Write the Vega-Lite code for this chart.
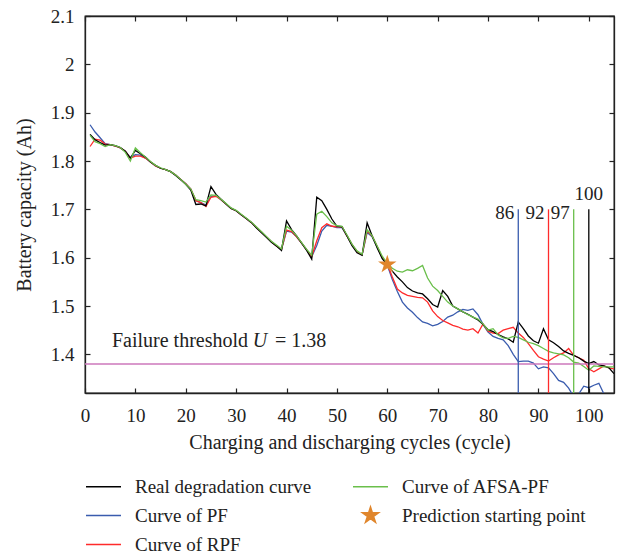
{
  "$schema": "https://vega.github.io/schema/vega-lite/v6.json",
  "width": 529,
  "height": 377,
  "autosize": {"type": "none"},
  "padding": {"left": 85, "top": 16, "right": 8, "bottom": 159},
  "config": {
    "view": {"stroke": "#222222", "strokeWidth": 1.3},
    "font": "Liberation Serif",
    "axis": {
      "grid": false,
      "domainColor": "#222222",
      "domainWidth": 1.3,
      "tickColor": "#222222",
      "tickWidth": 1.2,
      "tickSize": -5,
      "labelFont": "Liberation Serif",
      "labelFontSize": 19,
      "labelColor": "#222222",
      "titleFont": "Liberation Serif",
      "titleFontSize": 20,
      "titleFontWeight": "normal",
      "titleColor": "#222222"
    },
    "legend": {
      "labelFont": "Liberation Serif",
      "labelFontSize": 19,
      "labelColor": "#222222",
      "labelLimit": 400,
      "symbolType": "stroke",
      "symbolSize": 1225,
      "symbolStrokeWidth": 1.5,
      "labelOffset": 13,
      "rowPadding": -1,
      "columnPadding": 38
    }
  },
  "layer": [
    {
      "data": {"values": [
        {"cyc": 1, "real": 1.855, "pf": 1.875, "rpf": 1.830, "afsa": 1.853},
        {"cyc": 2, "real": 1.844, "pf": 1.860, "rpf": 1.845, "afsa": 1.840},
        {"cyc": 3, "real": 1.838, "pf": 1.848, "rpf": 1.843, "afsa": 1.836},
        {"cyc": 4, "real": 1.833, "pf": 1.836, "rpf": 1.835, "afsa": 1.830},
        {"cyc": 5, "real": 1.834, "pf": 1.834, "rpf": 1.834, "afsa": 1.834},
        {"cyc": 6, "real": 1.832, "pf": 1.831, "rpf": 1.831, "afsa": 1.832},
        {"cyc": 7, "real": 1.828, "pf": 1.827, "rpf": 1.827, "afsa": 1.828},
        {"cyc": 8, "real": 1.820, "pf": 1.820, "rpf": 1.820, "afsa": 1.818},
        {"cyc": 9, "real": 1.806, "pf": 1.807, "rpf": 1.806, "afsa": 1.800},
        {"cyc": 10, "real": 1.822, "pf": 1.813, "rpf": 1.810, "afsa": 1.827},
        {"cyc": 11, "real": 1.815, "pf": 1.812, "rpf": 1.810, "afsa": 1.817},
        {"cyc": 12, "real": 1.808, "pf": 1.806, "rpf": 1.806, "afsa": 1.808},
        {"cyc": 13, "real": 1.798, "pf": 1.798, "rpf": 1.798, "afsa": 1.799},
        {"cyc": 14, "real": 1.791, "pf": 1.790, "rpf": 1.790, "afsa": 1.791},
        {"cyc": 15, "real": 1.785, "pf": 1.785, "rpf": 1.785, "afsa": 1.786},
        {"cyc": 16, "real": 1.782, "pf": 1.782, "rpf": 1.782, "afsa": 1.782},
        {"cyc": 17, "real": 1.778, "pf": 1.778, "rpf": 1.778, "afsa": 1.778},
        {"cyc": 18, "real": 1.770, "pf": 1.771, "rpf": 1.771, "afsa": 1.771},
        {"cyc": 19, "real": 1.761, "pf": 1.762, "rpf": 1.762, "afsa": 1.762},
        {"cyc": 20, "real": 1.752, "pf": 1.753, "rpf": 1.753, "afsa": 1.752},
        {"cyc": 21, "real": 1.740, "pf": 1.742, "rpf": 1.742, "afsa": 1.742},
        {"cyc": 22, "real": 1.710, "pf": 1.718, "rpf": 1.718, "afsa": 1.720},
        {"cyc": 23, "real": 1.711, "pf": 1.714, "rpf": 1.714, "afsa": 1.718},
        {"cyc": 24, "real": 1.707, "pf": 1.709, "rpf": 1.706, "afsa": 1.715},
        {"cyc": 25, "real": 1.747, "pf": 1.727, "rpf": 1.725, "afsa": 1.730},
        {"cyc": 26, "real": 1.731, "pf": 1.728, "rpf": 1.727, "afsa": 1.729},
        {"cyc": 27, "real": 1.721, "pf": 1.720, "rpf": 1.720, "afsa": 1.721},
        {"cyc": 28, "real": 1.711, "pf": 1.711, "rpf": 1.711, "afsa": 1.712},
        {"cyc": 29, "real": 1.702, "pf": 1.702, "rpf": 1.702, "afsa": 1.703},
        {"cyc": 30, "real": 1.697, "pf": 1.697, "rpf": 1.697, "afsa": 1.698},
        {"cyc": 31, "real": 1.689, "pf": 1.689, "rpf": 1.689, "afsa": 1.690},
        {"cyc": 32, "real": 1.681, "pf": 1.681, "rpf": 1.681, "afsa": 1.682},
        {"cyc": 33, "real": 1.673, "pf": 1.673, "rpf": 1.673, "afsa": 1.674},
        {"cyc": 34, "real": 1.662, "pf": 1.663, "rpf": 1.663, "afsa": 1.664},
        {"cyc": 35, "real": 1.652, "pf": 1.653, "rpf": 1.653, "afsa": 1.654},
        {"cyc": 36, "real": 1.642, "pf": 1.643, "rpf": 1.643, "afsa": 1.644},
        {"cyc": 37, "real": 1.632, "pf": 1.633, "rpf": 1.633, "afsa": 1.634},
        {"cyc": 38, "real": 1.624, "pf": 1.624, "rpf": 1.624, "afsa": 1.626},
        {"cyc": 39, "real": 1.615, "pf": 1.617, "rpf": 1.617, "afsa": 1.618},
        {"cyc": 40, "real": 1.676, "pf": 1.655, "rpf": 1.657, "afsa": 1.665},
        {"cyc": 41, "real": 1.658, "pf": 1.653, "rpf": 1.654, "afsa": 1.657},
        {"cyc": 42, "real": 1.645, "pf": 1.643, "rpf": 1.643, "afsa": 1.645},
        {"cyc": 43, "real": 1.630, "pf": 1.630, "rpf": 1.630, "afsa": 1.631},
        {"cyc": 44, "real": 1.615, "pf": 1.616, "rpf": 1.616, "afsa": 1.617},
        {"cyc": 45, "real": 1.597, "pf": 1.602, "rpf": 1.602, "afsa": 1.605},
        {"cyc": 46, "real": 1.725, "pf": 1.625, "rpf": 1.635, "afsa": 1.690},
        {"cyc": 47, "real": 1.718, "pf": 1.655, "rpf": 1.662, "afsa": 1.696},
        {"cyc": 48, "real": 1.700, "pf": 1.667, "rpf": 1.670, "afsa": 1.685},
        {"cyc": 49, "real": 1.680, "pf": 1.665, "rpf": 1.665, "afsa": 1.672},
        {"cyc": 50, "real": 1.665, "pf": 1.662, "rpf": 1.664, "afsa": 1.666},
        {"cyc": 51, "real": 1.664, "pf": 1.662, "rpf": 1.664, "afsa": 1.665},
        {"cyc": 52, "real": 1.645, "pf": 1.645, "rpf": 1.645, "afsa": 1.647},
        {"cyc": 53, "real": 1.625, "pf": 1.627, "rpf": 1.627, "afsa": 1.628},
        {"cyc": 54, "real": 1.610, "pf": 1.612, "rpf": 1.612, "afsa": 1.614},
        {"cyc": 55, "real": 1.605, "pf": 1.606, "rpf": 1.606, "afsa": 1.607},
        {"cyc": 56, "real": 1.672, "pf": 1.652, "rpf": 1.655, "afsa": 1.658},
        {"cyc": 57, "real": 1.645, "pf": 1.643, "rpf": 1.645, "afsa": 1.645},
        {"cyc": 58, "real": 1.620, "pf": 1.622, "rpf": 1.623, "afsa": 1.624},
        {"cyc": 59, "real": 1.598, "pf": 1.600, "rpf": 1.600, "afsa": 1.603},
        {"cyc": 60, "real": 1.585, "pf": 1.585, "rpf": 1.587, "afsa": 1.588},
        {"cyc": 61, "real": 1.572, "pf": 1.555, "rpf": 1.560, "afsa": 1.578},
        {"cyc": 62, "real": 1.560, "pf": 1.530, "rpf": 1.535, "afsa": 1.572},
        {"cyc": 63, "real": 1.550, "pf": 1.508, "rpf": 1.527, "afsa": 1.570},
        {"cyc": 64, "real": 1.538, "pf": 1.496, "rpf": 1.522, "afsa": 1.575},
        {"cyc": 65, "real": 1.531, "pf": 1.487, "rpf": 1.520, "afsa": 1.573},
        {"cyc": 66, "real": 1.527, "pf": 1.476, "rpf": 1.518, "afsa": 1.578},
        {"cyc": 67, "real": 1.525, "pf": 1.467, "rpf": 1.517, "afsa": 1.584},
        {"cyc": 68, "real": 1.515, "pf": 1.464, "rpf": 1.508, "afsa": 1.558},
        {"cyc": 69, "real": 1.503, "pf": 1.459, "rpf": 1.490, "afsa": 1.541},
        {"cyc": 70, "real": 1.498, "pf": 1.462, "rpf": 1.478, "afsa": 1.532},
        {"cyc": 71, "real": 1.532, "pf": 1.468, "rpf": 1.470, "afsa": 1.520},
        {"cyc": 72, "real": 1.520, "pf": 1.477, "rpf": 1.465, "afsa": 1.508},
        {"cyc": 73, "real": 1.500, "pf": 1.481, "rpf": 1.460, "afsa": 1.500},
        {"cyc": 74, "real": 1.494, "pf": 1.488, "rpf": 1.457, "afsa": 1.494},
        {"cyc": 75, "real": 1.488, "pf": 1.493, "rpf": 1.452, "afsa": 1.488},
        {"cyc": 76, "real": 1.483, "pf": 1.491, "rpf": 1.450, "afsa": 1.482},
        {"cyc": 77, "real": 1.477, "pf": 1.494, "rpf": 1.453, "afsa": 1.477},
        {"cyc": 78, "real": 1.471, "pf": 1.482, "rpf": 1.444, "afsa": 1.473},
        {"cyc": 79, "real": 1.462, "pf": 1.462, "rpf": 1.463, "afsa": 1.463},
        {"cyc": 80, "real": 1.451, "pf": 1.446, "rpf": 1.448, "afsa": 1.450},
        {"cyc": 81, "real": 1.447, "pf": 1.437, "rpf": 1.444, "afsa": 1.453},
        {"cyc": 82, "real": 1.441, "pf": 1.433, "rpf": 1.443, "afsa": 1.440},
        {"cyc": 83, "real": 1.436, "pf": 1.430, "rpf": 1.450, "afsa": 1.434},
        {"cyc": 84, "real": 1.432, "pf": 1.418, "rpf": 1.453, "afsa": 1.433},
        {"cyc": 85, "real": 1.425, "pf": 1.400, "rpf": 1.456, "afsa": 1.437},
        {"cyc": 86, "real": 1.467, "pf": 1.385, "rpf": 1.444, "afsa": 1.435},
        {"cyc": 87, "real": 1.453, "pf": 1.386, "rpf": 1.435, "afsa": 1.430},
        {"cyc": 88, "real": 1.438, "pf": 1.386, "rpf": 1.422, "afsa": 1.425},
        {"cyc": 89, "real": 1.428, "pf": 1.382, "rpf": 1.408, "afsa": 1.422},
        {"cyc": 90, "real": 1.423, "pf": 1.370, "rpf": 1.395, "afsa": 1.418},
        {"cyc": 91, "real": 1.453, "pf": 1.374, "rpf": 1.390, "afsa": 1.412},
        {"cyc": 92, "real": 1.430, "pf": 1.372, "rpf": 1.386, "afsa": 1.406},
        {"cyc": 93, "real": 1.424, "pf": 1.360, "rpf": 1.393, "afsa": 1.403},
        {"cyc": 94, "real": 1.416, "pf": 1.346, "rpf": 1.399, "afsa": 1.401},
        {"cyc": 95, "real": 1.407, "pf": 1.342, "rpf": 1.403, "afsa": 1.399},
        {"cyc": 96, "real": 1.402, "pf": 1.330, "rpf": 1.412, "afsa": 1.393},
        {"cyc": 97, "real": 1.398, "pf": 1.312, "rpf": 1.398, "afsa": 1.384},
        {"cyc": 98, "real": 1.393, "pf": 1.318, "rpf": 1.393, "afsa": 1.382},
        {"cyc": 99, "real": 1.386, "pf": 1.334, "rpf": 1.388, "afsa": 1.375},
        {"cyc": 100, "real": 1.381, "pf": 1.331, "rpf": 1.370, "afsa": 1.367},
        {"cyc": 101, "real": 1.385, "pf": 1.336, "rpf": 1.364, "afsa": 1.376},
        {"cyc": 102, "real": 1.378, "pf": 1.340, "rpf": 1.370, "afsa": 1.375},
        {"cyc": 103, "real": 1.376, "pf": 1.318, "rpf": 1.376, "afsa": 1.374},
        {"cyc": 104, "real": 1.372, "pf": 1.310, "rpf": 1.372, "afsa": 1.374},
        {"cyc": 105, "real": 1.360, "pf": 1.305, "rpf": 1.370, "afsa": 1.374}
      ]},
      "transform": [{"fold": ["pf", "rpf", "real", "afsa"], "as": ["series", "cap"]}],
      "mark": {"type": "line", "strokeWidth": 1.3, "clip": true},
      "encoding": {
        "x": {
          "field": "cyc", "type": "quantitative",
          "scale": {"domain": [0, 105], "nice": false, "zero": false},
          "axis": {
            "orient": "bottom",
            "values": [0, 10, 20, 30, 40, 50, 60, 70, 80, 90, 100],
            "labelFlush": false,
            "labelPadding": 18,
            "title": "Charging and discharging cycles (cycle)",
            "titlePadding": 7
          }
        },
        "y": {
          "field": "cap", "type": "quantitative",
          "scale": {"domain": [1.32, 2.1], "nice": false, "zero": false},
          "axis": {
            "orient": "left",
            "values": [1.4, 1.5, 1.6, 1.7, 1.8, 1.9, 2, 2.1],
            "format": "~g",
            "labelPadding": 16,
            "title": "Battery capacity (Ah)",
            "titlePadding": 16
          }
        },
        "color": {
          "field": "series", "type": "nominal",
          "scale": {
            "domain": ["real", "pf", "rpf", "afsa", "star"],
            "range": ["#000000", "#3a5cae", "#ff2b2b", "#6abf4b", "#e0862c"]
          },
          "legend": {
            "orient": "none",
            "legendX": 0,
            "legendY": 452,
            "columns": 2,
            "title": null,
            "labelExpr": "datum.value === 'real' ? 'Real degradation curve' : datum.value === 'afsa' ? 'Curve of AFSA-PF' : datum.value === 'pf' ? 'Curve of PF' : datum.value === 'rpf' ? 'Curve of RPF' : 'Prediction starting point'",
            "encode": {
              "symbols": {
                "update": {
                  "shape": {"signal": "datum.value === 'star' ? 'M0,-1L0.225,-0.309L0.951,-0.309L0.363,0.118L0.588,0.809L0,0.382L-0.588,0.809L-0.363,0.118L-0.951,-0.309L-0.225,-0.309Z' : 'stroke'"},
                  "size": {"signal": "datum.value === 'star' ? 290 : 1225"},
                  "fill": {"signal": "datum.value === 'star' ? '#ffffff' : 'transparent'"}
                }
              }
            }
          }
        }
      }
    },
    {
      "data": {"values": [{"cap": 1.38}]},
      "mark": {"type": "rule", "color": "#cc77bb", "strokeWidth": 1.5},
      "encoding": {
        "y": {
          "field": "cap", "type": "quantitative",
          "axis": {"orient": "right", "values": [1.4, 1.5, 1.6, 1.7, 1.8, 1.9, 2, 2.1], "labels": false, "title": null}
        }
      }
    },
    {
      "data": {"values": [
        {"cyc": 86, "top": 1.7, "lo": 1.32, "series": "pf", "lbl": "86"},
        {"cyc": 92, "top": 1.7, "lo": 1.32, "series": "rpf", "lbl": "92"},
        {"cyc": 97, "top": 1.7, "lo": 1.32, "series": "afsa", "lbl": "97"},
        {"cyc": 100, "top": 1.7, "lo": 1.32, "series": "real", "lbl": "100"}
      ]},
      "layer": [
        {
          "mark": {"type": "rule", "strokeWidth": 1.3},
          "encoding": {
            "x": {"field": "cyc", "type": "quantitative", "axis": null},
            "y": {"field": "top", "type": "quantitative", "axis": null},
            "y2": {"field": "lo"},
            "color": {"field": "series", "type": "nominal"}
          }
        },
        {
          "transform": [{"filter": "datum.cyc < 100"}],
          "mark": {"type": "text", "align": "right", "baseline": "alphabetic", "dx": -4, "dy": 10, "fontSize": 19, "font": "Liberation Serif", "color": "#222222"},
          "encoding": {
            "x": {"field": "cyc", "type": "quantitative", "axis": null},
            "y": {"field": "top", "type": "quantitative", "axis": null},
            "text": {"field": "lbl"}
          }
        },
        {
          "transform": [{"filter": "datum.cyc >= 100"}],
          "mark": {"type": "text", "align": "center", "baseline": "alphabetic", "dy": -9, "fontSize": 19, "font": "Liberation Serif", "color": "#222222"},
          "encoding": {
            "x": {"field": "cyc", "type": "quantitative", "axis": null},
            "y": {"field": "top", "type": "quantitative", "axis": null},
            "text": {"field": "lbl"}
          }
        }
      ]
    },
    {
      "data": {"values": [{"cyc": 60, "cap": 1.586, "series": "star"}]},
      "mark": {
        "type": "point",
        "shape": "M0,-1L0.225,-0.309L0.951,-0.309L0.363,0.118L0.588,0.809L0,0.382L-0.588,0.809L-0.363,0.118L-0.951,-0.309L-0.225,-0.309Z",
        "filled": true,
        "size": 380,
        "opacity": 1
      },
      "encoding": {
        "x": {
          "field": "cyc", "type": "quantitative",
          "axis": {"orient": "top", "values": [0, 10, 20, 30, 40, 50, 60, 70, 80, 90, 100], "labels": false, "title": null}
        },
        "y": {"field": "cap", "type": "quantitative", "axis": null},
        "color": {"field": "series", "type": "nominal"}
      }
    },
    {
      "data": {"values": [
        {"cyc": 5.35, "cap": 1.415, "txt": "Failure threshold"},
        {"cyc": 37.7, "cap": 1.415, "txt": "= 1.38"}
      ]},
      "mark": {"type": "text", "align": "left", "baseline": "alphabetic", "fontSize": 20, "font": "Liberation Serif", "color": "#222222"},
      "encoding": {
        "x": {"field": "cyc", "type": "quantitative", "axis": null},
        "y": {"field": "cap", "type": "quantitative", "axis": null},
        "text": {"field": "txt"}
      }
    },
    {
      "data": {"values": [{"cyc": 33.3, "cap": 1.415, "txt": "U"}]},
      "mark": {"type": "text", "align": "left", "baseline": "alphabetic", "fontSize": 20, "fontStyle": "italic", "font": "Liberation Serif", "color": "#222222"},
      "encoding": {
        "x": {"field": "cyc", "type": "quantitative", "axis": null},
        "y": {"field": "cap", "type": "quantitative", "axis": null},
        "text": {"field": "txt"}
      }
    }
  ],
  "resolve": {"axis": {"x": "independent", "y": "independent"}}
}
